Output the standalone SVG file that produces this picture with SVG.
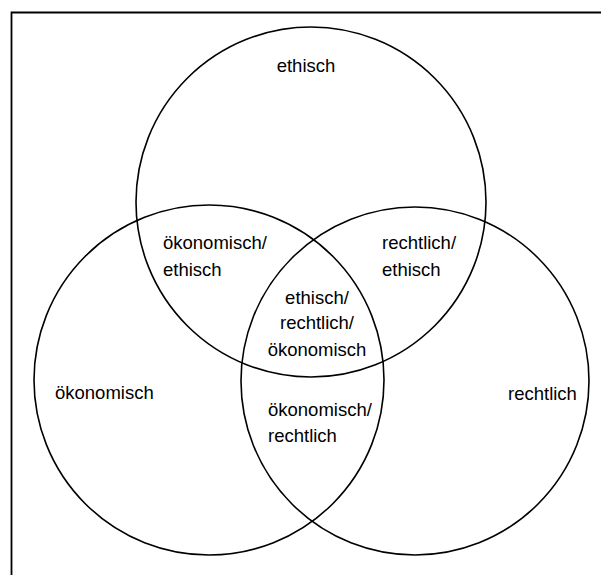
<svg xmlns="http://www.w3.org/2000/svg" width="601" height="575" viewBox="0 0 601 575">
<style>
.c{fill:none;stroke:#000;stroke-width:1.6}
.t{font-family:"Liberation Sans",Arial,sans-serif;font-size:18.5px;fill:#000}
.m{text-anchor:middle}
</style>
<rect x="0" y="0" width="601" height="575" fill="#fff"/>
<path d="M11.5,575 V12.5 H601" fill="none" stroke="#000" stroke-width="1.8"/>
<g id="circles">
<g id="ethisch"><circle class="c" cx="311" cy="202" r="175"/><text class="t m" x="306" y="72">ethisch</text></g>
<g id="oekonomisch"><circle class="c" cx="209" cy="380" r="175"/><text class="t" x="55" y="399">ökonomisch</text></g>
<g id="rechtlich"><circle class="c" cx="415" cy="381" r="174"/><text class="t" x="508" y="400">rechtlich</text></g>
</g>
<g id="oek-eth"><text class="t" x="163" y="249">ökonomisch/</text><text class="t" x="163" y="276">ethisch</text></g>
<g id="rech-eth"><text class="t" x="382" y="249">rechtlich/</text><text class="t" x="382" y="276">ethisch</text></g>
<g id="center"><text class="t m" x="317" y="304">ethisch/</text><text class="t m" x="317" y="329">rechtlich/</text><text class="t m" x="317" y="356">ökonomisch</text></g>
<g id="oek-rech"><text class="t" x="268" y="416">ökonomisch/</text><text class="t" x="268" y="442">rechtlich</text></g>
</svg>
